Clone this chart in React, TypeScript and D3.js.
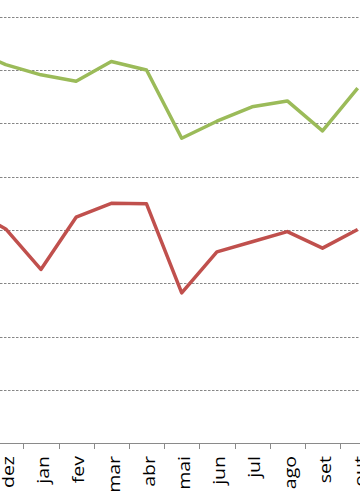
import React from "react";
import * as d3 from "d3";

const categories = ["nov", "dez", "jan", "fev", "mar", "abr", "mai", "jun", "jul", "ago", "set", "out"];
const visibleLabels = ["dez", "jan", "fev", "mar", "abr", "mai", "jun", "jul", "ago", "set", "out"];
const greenSeries = [74.0, 71.0, 69.1, 67.9, 71.6, 70.0, 57.2, 60.4, 63.1, 64.2, 58.6, 66.6];
const redSeries = [44.0, 40.2, 32.6, 42.4, 45.0, 44.9, 28.2, 35.9, 37.8, 39.7, 36.6, 40.1];
const gridValues = [10, 20, 30, 40, 50, 60, 70, 80];

const W = 360;
const H = 504;

export default function App() {
  const x = d3.scalePoint<string>().domain(categories).range([-29.5, 357.7]);
  const y = d3.scaleLinear().domain([0, 80]).range([443.3, 16.7]);
  const step = x.step();
  const line = d3
    .line<number>()
    .x((_, i) => x(categories[i]) as number)
    .y((d) => y(d));

  const tickXs = categories.slice(0, -1).map((c) => (x(c) as number) + step / 2);
  const axisY = y(0);

  return (
    <svg
      width={W}
      height={H}
      style={{ position: "fixed", left: 0, top: 0, background: "#fff" }}
    >
      {gridValues.map((v) => (
        <line
          key={v}
          x1={0}
          x2={W}
          y1={Math.round(y(v)) + 0.5}
          y2={Math.round(y(v)) + 0.5}
          stroke="#868686"
          strokeWidth={1}
          strokeDasharray="2.5,1.5"
        />
      ))}
      <line x1={0} x2={W} y1={Math.round(axisY) + 0.5} y2={Math.round(axisY) + 0.5} stroke="#8a8a8a" strokeWidth={1} />
      {tickXs.map((tx, i) => (
        <line
          key={i}
          x1={Math.round(tx) + 0.5}
          x2={Math.round(tx) + 0.5}
          y1={Math.round(axisY)}
          y2={Math.round(axisY) + 6}
          stroke="#8a8a8a"
          strokeWidth={1}
        />
      ))}
      <path d={line(greenSeries) || ""} fill="none" stroke="#9bbb59" strokeWidth={3.5} strokeLinejoin="round" />
      <path d={line(redSeries) || ""} fill="none" stroke="#c0504d" strokeWidth={3.5} strokeLinejoin="round" />
      {visibleLabels.map((c) => (
        <text
          key={c}
          transform={`translate(${x(c)},456) rotate(-90) scale(1.22,1)`}
          x={0}
          y={8.3}
          textAnchor="end"
          fontFamily="'Open Sans', sans-serif"
          fontSize={16}
          fill="#000"
        >
          {c}
        </text>
      ))}
    </svg>
  );
}
